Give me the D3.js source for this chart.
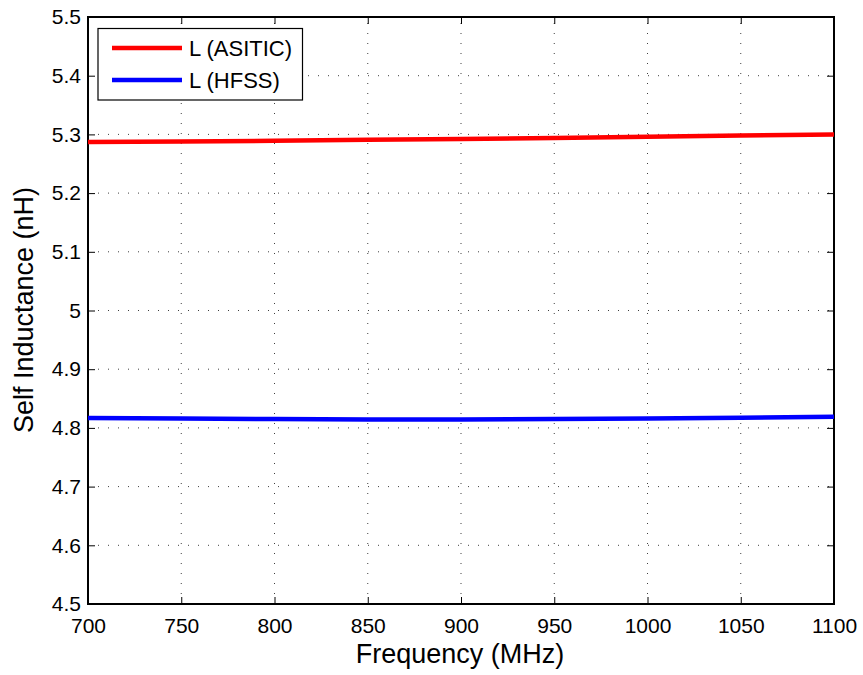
<!DOCTYPE html>
<html>
<head>
<meta charset="utf-8">
<script src="https://cdn.jsdelivr.net/npm/d3@7"></script>
<style>
  body { margin: 0; background: #fff; }
  svg { display: block; font-family: "Liberation Sans", Arial, sans-serif; }
</style>
</head>
<body>
<svg id="chart" width="863" height="675"></svg>
<script>
// Frequency sweep (MHz) and simulated self inductance (nH)
const frequency = [700, 750, 800, 850, 900, 950, 1000, 1050, 1100];
const asitic = [5.287, 5.288, 5.289, 5.291, 5.292, 5.294, 5.296, 5.298, 5.300];
const hfss = [4.817, 4.816, 4.815, 4.8145, 4.8145, 4.815, 4.816, 4.8175, 4.819];
const xTicks = [700, 750, 800, 850, 900, 950, 1000, 1050, 1100];
const yTicks = [4.5, 4.6, 4.7, 4.8, 4.9, 5.0, 5.1, 5.2, 5.3, 5.4, 5.5];
const seriesNames = ["L (ASITIC)", "L (HFSS)"];
const seriesColors = ["#ff0000", "#0000ff"];

const svg = d3.select("#chart");
const m = { left: 88, right: 834, top: 17, bottom: 604 };

const x = d3.scaleLinear().domain([700, 1100]).range([m.left, m.right]);
const y = d3.scaleLinear().domain([4.5, 5.5]).range([m.bottom, m.top]);

// dotted grid
const grid = svg.append("g").attr("stroke", "#000").attr("stroke-width", 1)
  .attr("stroke-dasharray", "1,9").attr("opacity", 0.75);
xTicks.slice(1, -1).forEach(v => {
  grid.append("line").attr("x1", x(v)).attr("x2", x(v)).attr("y1", m.bottom).attr("y2", m.top);
});
yTicks.slice(1, -1).forEach(v => {
  grid.append("line").attr("x1", m.left).attr("x2", m.right).attr("y1", y(v)).attr("y2", y(v));
});

// axes with inward ticks on all four sides
const tickLen = 7;
const fmtY = d => d3.format("")(+d.toFixed(1));
const axB = svg.append("g").attr("transform", `translate(0,${m.bottom})`)
  .call(d3.axisBottom(x).tickValues(xTicks).tickSize(-tickLen).tickPadding(14).tickFormat(d3.format("")));
const axT = svg.append("g").attr("transform", `translate(0,${m.top})`)
  .call(d3.axisTop(x).tickValues(xTicks).tickSize(-tickLen).tickFormat(""));
const axL = svg.append("g").attr("transform", `translate(${m.left},0)`)
  .call(d3.axisLeft(y).tickValues(yTicks).tickSize(-tickLen).tickPadding(7).tickFormat(fmtY));
const axR = svg.append("g").attr("transform", `translate(${m.right},0)`)
  .call(d3.axisRight(y).tickValues(yTicks).tickSize(-tickLen).tickFormat(""));
[axB, axT, axL, axR].forEach(a => {
  a.select(".domain").remove();
  a.selectAll("line").attr("stroke", "#000").attr("stroke-width", 1);
  a.selectAll("text").attr("fill", "#000").style("font-size", "21px")
    .style("font-family", '"Liberation Sans", Arial, sans-serif');
});

// plot frame
svg.append("rect").attr("x", m.left).attr("y", m.top)
  .attr("width", m.right - m.left).attr("height", m.bottom - m.top)
  .attr("fill", "none").attr("stroke", "#000").attr("stroke-width", 2);

// series lines
const line = d3.line().x((d, i) => x(frequency[i])).y(d => y(d));
[asitic, hfss].forEach((s, k) => {
  svg.append("path").datum(s).attr("d", line).attr("fill", "none")
    .attr("stroke", seriesColors[k]).attr("stroke-width", 4.5);
});

// legend
const lg = svg.append("g");
lg.append("rect").attr("x", 98).attr("y", 28.5).attr("width", 204.5).attr("height", 71.5)
  .attr("fill", "#fff").attr("stroke", "#000").attr("stroke-width", 1.2);
seriesNames.forEach((n, k) => {
  const yy = 48 + k * 32;
  lg.append("line").attr("x1", 112).attr("x2", 182).attr("y1", yy).attr("y2", yy)
    .attr("stroke", seriesColors[k]).attr("stroke-width", 4.5);
  lg.append("text").attr("x", 189).attr("y", yy).attr("dy", "0.35em")
    .style("font-size", "22px").text(n);
});

// axis titles
svg.append("text").attr("x", 460).attr("y", 663)
  .attr("text-anchor", "middle").style("font-size", "27px").text("Frequency (MHz)");
svg.append("text").attr("transform", `translate(33,310) rotate(-90)`)
  .attr("text-anchor", "middle").style("font-size", "27px").text("Self Inductance (nH)");
</script>
</body>
</html>
